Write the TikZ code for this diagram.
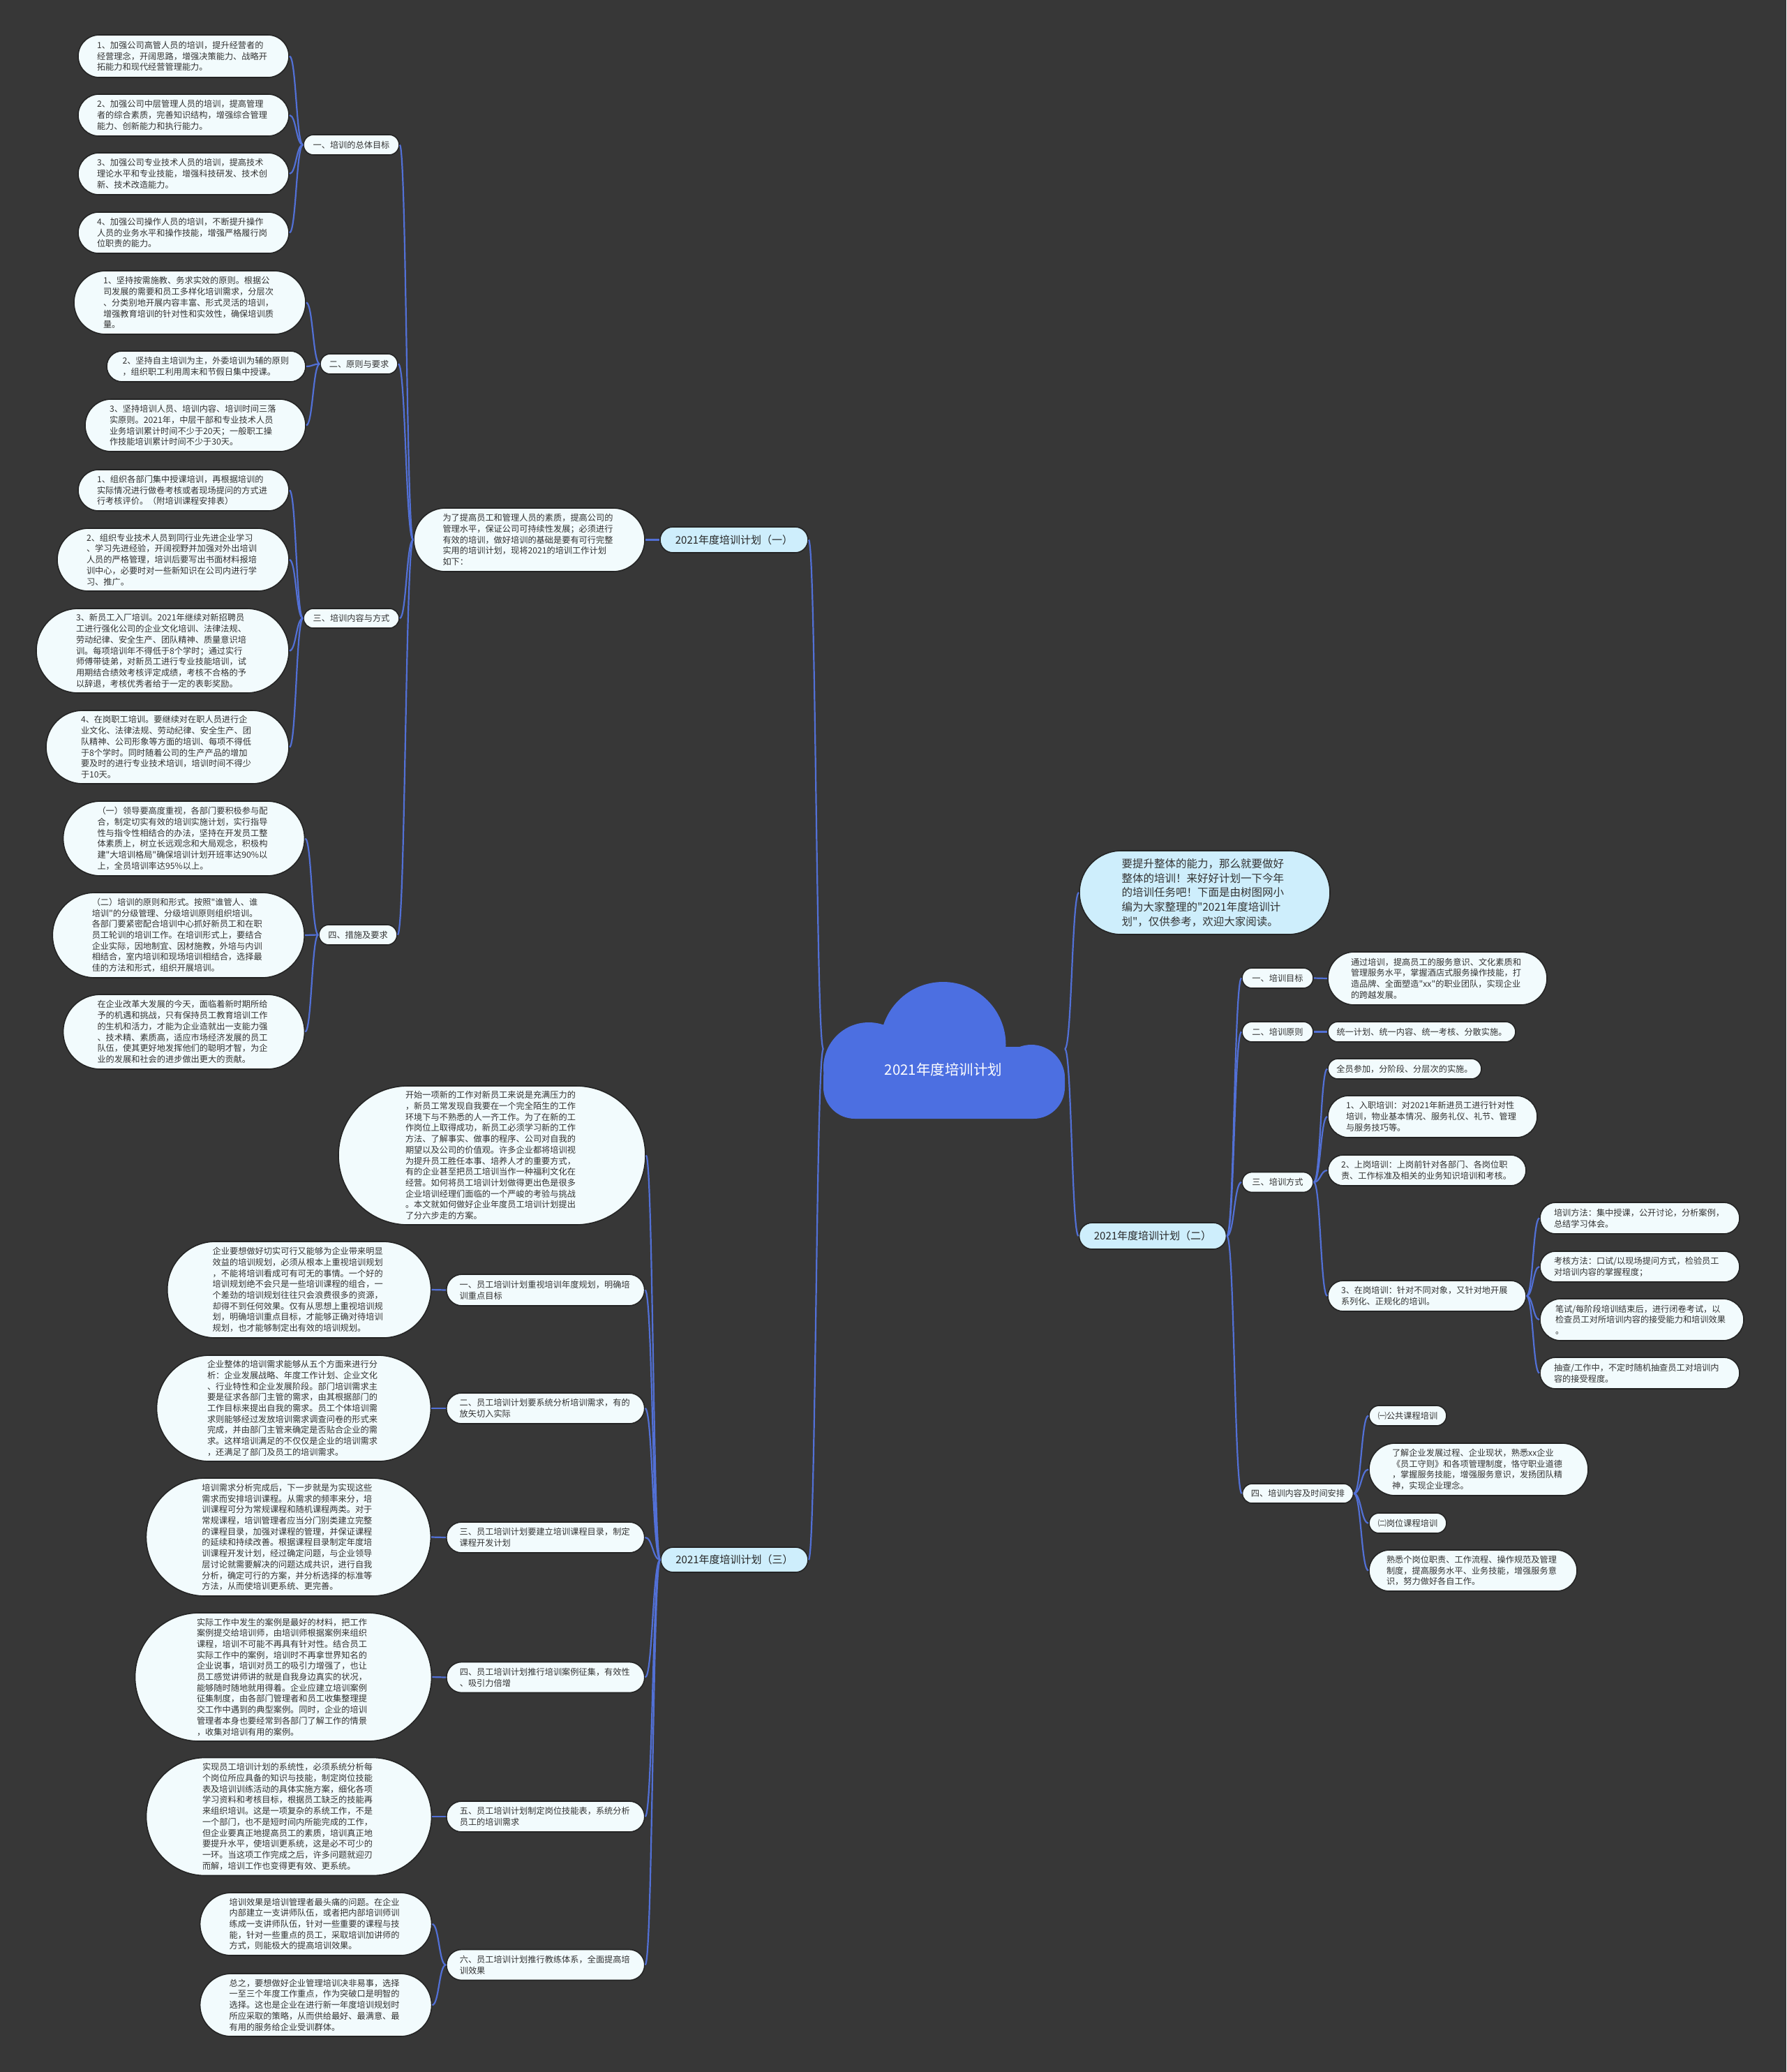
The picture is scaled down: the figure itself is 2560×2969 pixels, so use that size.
\documentclass[tikz,border=0pt]{standalone}
\usepackage{fontspec}
\newfontfamily\cjk{Noto Sans CJK SC}
\usetikzlibrary{calc}
\definecolor{bgc}{RGB}{55,55,55}
\definecolor{leafc}{RGB}{242,251,253}
\definecolor{titlec}{RGB}{206,238,252}
\definecolor{cloudc}{RGB}{76,111,225}
\definecolor{linec}{RGB}{82,112,214}
\definecolor{txtc}{RGB}{51,51,51}
\definecolor{edgec}{RGB}{36,36,36}
\tikzset{
  box/.style={draw=edgec, line width=1.6pt, fill=leafc, inner sep=0pt, text=txtc,
    font=\cjk\fontsize{12.2pt}{15.7pt}\selectfont, align=left},
  tbox/.style={box, fill=titlec, font=\cjk\fontsize{15pt}{18pt}\selectfont, text=black!85, align=center},
  conn/.style={draw=linec, line width=2.2pt},
}
\newcommand\leaf[7]{\node[box, minimum width=#4pt, minimum height=#5pt, text width=#6pt, rounded corners={#5pt*0.5}] (#1) at (#2,#3) {#7};}
\newcommand\lab[6]{\node[box, align=center, minimum width=#4pt, minimum height=#5pt, rounded corners={#5pt*0.5}] (#1) at (#2,#3) {#6};}
\newcommand\cn[2]{\draw[conn] let \p1=(#1), \p2=(#2) in (\p1) .. controls ({(\x1+\x2)/2},\y1) and ({(\x1+\x2)/2},\y2) .. (\p2);}
\begin{document}
\begin{tikzpicture}[x=1pt,y=-1pt]
\fill[bgc] (0,0) rectangle (2560,2969);
\useasboundingbox (0,0) rectangle (2560,2969);
% cloud
\fill[cloudc] (1351.5,1497) circle[radius=90pt];
\fill[cloudc] (1245,1530) circle[radius=65pt];
\fill[cloudc] (1478,1545) circle[radius=48pt];
\fill[cloudc, rounded corners=45pt] (1180,1500) rectangle (1526,1603);
\node[font=\cjk\fontsize{20.5pt}{24pt}\selectfont, text=white] (root) at (1352,1533) {2021年度培训计划};
\coordinate (rootL) at (1180,1503);
\coordinate (rootR) at (1526,1503);

% ===== plan one =====
\node[tbox, minimum width=212pt, minimum height=37pt, rounded corners=18.5pt] (title1) at (1052,773.5) {2021年度培训计划（一）};
\leaf{intro1}{758.5}{773.5}{331}{91}{248}{为了提高员工和管理人员的素质，提高公司的\\管理水平，保证公司可持续性发展；必须进行\\有效的培训，做好培训的基础是要有可行完整\\实用的培训计划，现将2021的培训工作计划\\如下：}
\lab{la1}{503.5}{207.5}{137}{29}{一、培训的总体目标}
\lab{la2}{514.5}{521.5}{111}{29}{二、原则与要求}
\lab{la3}{503.5}{886}{137}{28}{三、培训内容与方式}
\lab{la4}{513}{1339.5}{112}{29}{四、措施及要求}

\leaf{a1}{263}{80.5}{302}{61}{248}{1、加强公司高管人员的培训，提升经营者的\\经营理念，开阔思路，增强决策能力、战略开\\拓能力和现代经营管理能力。}
\leaf{a2}{263}{165}{302}{60}{248}{2、加强公司中层管理人员的培训，提高管理\\者的综合素质，完善知识结构，增强综合管理\\能力、创新能力和执行能力。}
\leaf{a3}{263}{249}{302}{60}{248}{3、加强公司专业技术人员的培训，提高技术\\理论水平和专业技能，增强科技研发、技术创\\新、技术改造能力。}
\leaf{a4}{263}{333.5}{302}{59}{248}{4、加强公司操作人员的培训，不断提升操作\\人员的业务水平和操作技能，增强严格履行岗\\位职责的能力。}

\leaf{p1}{272}{433.5}{332}{91}{248}{1、坚持按需施教、务求实效的原则。根据公\\司发展的需要和员工多样化培训需求，分层次\\、分类别地开展内容丰富、形式灵活的培训，\\增强教育培训的针对性和实效性，确保培训质\\量。}
\leaf{p2}{295.5}{525}{285}{44}{240}{2、坚持自主培训为主，外委培训为辅的原则\\，组织职工利用周末和节假日集中授课。}
\leaf{p3}{280}{609.5}{316}{75}{246}{3、坚持培训人员、培训内容、培训时间三落\\实原则。2021年，中层干部和专业技术人员\\业务培训累计时间不少于20天；一般职工操\\作技能培训累计时间不少于30天。}

\leaf{c1}{263}{702.5}{302}{59}{248}{1、组织各部门集中授课培训，再根据培训的\\实际情况进行做卷考核或者现场提问的方式进\\行考核评价。（附培训课程安排表）}
\leaf{c2}{248}{802}{332}{90}{248}{2、组织专业技术人员到同行业先进企业学习\\、学习先进经验，开阔视野并加强对外出培训\\人员的严格管理，培训后要写出书面材料报培\\训中心，必要时对一些新知识在公司内进行学\\习、推广。}
\leaf{c3}{233}{932.5}{362}{121}{248}{3、新员工入厂培训。2021年继续对新招聘员\\工进行强化公司的企业文化培训、法律法规、\\劳动纪律、安全生产、团队精神、质量意识培\\训。每项培训年不得低于8个学时；通过实行\\师傅带徒弟，对新员工进行专业技能培训，试\\用期结合绩效考核评定成绩，考核不合格的予\\以辞退，考核优秀者给于一定的表彰奖励。}
\leaf{c4}{240}{1070.5}{348}{105}{248}{4、在岗职工培训。要继续对在职人员进行企\\业文化、法律法规、劳动纪律、安全生产、团\\队精神、公司形象等方面的培训、每项不得低\\于8个学时。同时随着公司的生产产品的增加\\要及时的进行专业技术培训，培训时间不得少\\于10天。}

\leaf{d1}{263.5}{1201.5}{346}{107}{248}{（一）领导要高度重视，各部门要积极参与配\\合，制定切实有效的培训实施计划，实行指导\\性与指令性相结合的办法，坚持在开发员工整\\体素质上，树立长远观念和大局观念，积极构\\建"大培训格局"确保培训计划开班率达90\%以\\上，全员培训率达95\%以上。}
\leaf{d2}{255.75}{1340}{361}{122}{248}{（二）培训的原则和形式。按照"谁管人、谁\\培训"的分级管理、分级培训原则组织培训。\\各部门要紧密配合培训中心抓好新员工和在职\\员工轮训的培训工作。在培训形式上，要结合\\企业实际，因地制宜、因材施教，外培与内训\\相结合，室内培训和现场培训相结合，选择最\\佳的方法和形式，组织开展培训。}
\leaf{d3}{263.5}{1478.5}{346}{107}{248}{在企业改革大发展的今天，面临着新时期所给\\予的机遇和挑战，只有保持员工教育培训工作\\的生机和活力，才能为企业造就出一支能力强\\、技术精、素质高，适应市场经济发展的员工\\队伍，使其更好地发挥他们的聪明才智，为企\\业的发展和社会的进步做出更大的贡献。}

% ===== right side =====
\node[box, fill=titlec, font=\cjk\fontsize{15.5pt}{20.7pt}\selectfont, minimum width=359pt, minimum height=120pt, text width=238pt, rounded corners=60pt] (rintro) at (1726.5,1279) {要提升整体的能力，那么就要做好\\整体的培训！来好好计划一下今年\\的培训任务吧！下面是由树图网小\\编为大家整理的"2021年度培训计\\划"，仅供参考，欢迎大家阅读。};
\node[tbox, minimum width=211pt, minimum height=38pt, rounded corners=19pt] (title2) at (1652,1771) {2021年度培训计划（二）};
\lab{ra1}{1831}{1401.5}{102}{29}{一、培训目标}
\lab{ra2}{1831}{1478.5}{102}{29}{二、培训原则}
\lab{ra3}{1831}{1694}{102}{29}{三、培训方式}
\lab{ra4}{1860}{2140}{159}{28}{四、培训内容及时间安排}
\leaf{ra1leaf}{2060}{1402}{314}{76}{248}{通过培训，提高员工的服务意识、文化素质和\\管理服务水平，掌握酒店式服务操作技能，打\\造品牌、全面塑造"xx"的职业团队，实现企业\\的跨越发展。}
\lab{ra2leaf}{2037.5}{1478.5}{269}{29}{统一计划、统一内容、统一考核、分散实施。}
\lab{r3a}{2013}{1531.5}{220}{29}{全员参加，分阶段、分层次的实施。}
\leaf{r3b}{2053}{1600}{300}{60}{248}{1、入职培训：对2021年新进员工进行针对性\\培训，物业基本情况、服务礼仪、礼节、管理\\与服务技巧等。}
\leaf{r3c}{2045}{1677}{284}{44}{246}{2、上岗培训：上岗前针对各部门、各岗位职\\责、工作标准及相关的业务知识培训和考核。}
\leaf{r3d}{2045}{1857}{284}{44}{246}{3、在岗培训：针对不同对象，又针对地开展\\系列化、正规化的培训。}
\leaf{m1}{2350}{1745.5}{286}{45}{246}{培训方法：集中授课，公开讨论，分析案例，\\总结学习体会。}
\leaf{m2}{2350}{1815}{286}{44}{246}{考核方法：口试/以现场提问方式，检验员工\\对培训内容的掌握程度；}
\leaf{m3}{2353}{1891}{292}{60}{248}{笔试/每阶段培训结束后，进行闭卷考试，以\\检查员工对所培训内容的接受能力和培训效果\\。}
\leaf{m4}{2350}{1967.5}{286}{45}{246}{抽查/工作中，不定时随机抽查员工对培训内\\容的接受程度。}
\lab{n1}{2017.5}{2028.5}{111}{29}{㈠公共课程培训}
\leaf{n2}{2119}{2105.5}{314}{75}{248}{了解企业发展过程、企业现状，熟悉xx企业\\《员工守则》和各项管理制度，恪守职业道德\\，掌握服务技能，增强服务意识，发扬团队精\\神，实现企业理念。}
\lab{n3}{2017.5}{2182.5}{111}{29}{㈡岗位课程培训}
\leaf{n4}{2111}{2250.5}{298}{59}{248}{熟悉个岗位职责、工作流程、操作规范及管理\\制度，提高服务水平、业务技能，增强服务意\\识，努力做好各自工作。}

% ===== plan three =====
\node[tbox, minimum width=211pt, minimum height=36pt, rounded corners=18pt] (title3) at (1052.5,2235) {2021年度培训计划（三）};
\leaf{intro3}{705}{1655.5}{440}{199}{248}{开始一项新的工作对新员工来说是充满压力的\\，新员工常发现自我要在一个完全陌生的工作\\环境下与不熟悉的人一齐工作。为了在新的工\\作岗位上取得成功，新员工必须学习新的工作\\方法、了解事实、做事的程序、公司对自我的\\期望以及公司的价值观。许多企业都将培训视\\为提升员工胜任本事、培养人才的重要方式，\\有的企业甚至把员工培训当作一种福利文化在\\经营。如何将员工培训计划做得更出色是很多\\企业培训经理们面临的一个严峻的考验与挑战\\。本文就如何做好企业年度员工培训计划提出\\了分六步走的方案。}
\leaf{bl1}{781.7}{1848.5}{284}{45}{246}{一、员工培训计划重视培训年度规划，明确培\\训重点目标}
\leaf{bl2}{781.7}{2018}{284}{44}{246}{二、员工培训计划要系统分析培训需求，有的\\放矢切入实际}
\leaf{bl3}{781.7}{2203}{284}{44}{246}{三、员工培训计划要建立培训课程目录，制定\\课程开发计划}
\leaf{bl4}{781.8}{2403.5}{284}{44}{246}{四、员工培训计划推行培训案例征集，有效性\\、吸引力倍增}
\leaf{bl5}{781.8}{2603}{284}{44}{246}{五、员工培训计划制定岗位技能表，系统分析\\员工的培训需求}
\leaf{bl6}{781.8}{2815.5}{284}{44}{246}{六、员工培训计划推行教练体系，全面提高培\\训效果}
\leaf{bf1}{428.7}{1848}{378}{138}{248}{企业要想做好切实可行又能够为企业带来明显\\效益的培训规划，必须从根本上重视培训规划\\，不能将培训看成可有可无的事情。一个好的\\培训规划绝不会只是一些培训课程的组合，一\\个差劲的培训规划往往只会浪费很多的资源，\\却得不到任何效果。仅有从思想上重视培训规\\划，明确培训重点目标，才能够正确对待培训\\规划，也才能够制定出有效的培训规划。}
\leaf{bf2}{421}{2018}{393}{152}{248}{企业整体的培训需求能够从五个方面来进行分\\析：企业发展战略、年度工作计划、企业文化\\、行业特性和企业发展阶段。部门培训需求主\\要是征求各部门主管的需求，由其根据部门的\\工作目标来提出自我的需求。员工个体培训需\\求则能够经过发放培训需求调查问卷的形式来\\完成，并由部门主管来确定是否贴合企业的需\\求。这样培训满足的不仅仅是企业的培训需求\\，还满足了部门及员工的培训需求。}
\leaf{bf3}{413.4}{2202.5}{408}{169}{248}{培训需求分析完成后，下一步就是为实现这些\\需求而安排培训课程。从需求的频率来分，培\\训课程可分为常规课程和随机课程两类。对于\\常规课程，培训管理者应当分门别类建立完整\\的课程目录，加强对课程的管理，并保证课程\\的延续和持续改善。根据课程目录制定年度培\\训课程开发计划，经过确定问题，与企业领导\\层讨论就需要解决的问题达成共识，进行自我\\分析，确定可行的方案，并分析选择的标准等\\方法，从而使培训更系统、更完善。}
\leaf{bf4}{406}{2403}{425}{184}{248}{实际工作中发生的案例是最好的材料，把工作\\案例提交给培训师，由培训师根据案例来组织\\课程，培训不可能不再具有针对性。结合员工\\实际工作中的案例，培训时不再拿世界知名的\\企业说事，培训对员工的吸引力增强了，也让\\员工感觉讲师讲的就是自我身边真实的状况，\\能够随时随地就用得着。企业应建立培训案例\\征集制度，由各部门管理者和员工收集整理提\\交工作中遇到的典型案例。同时，企业的培训\\管理者本身也要经常到各部门了解工作的情景\\，收集对培训有用的案例。}
\leaf{bf5}{414}{2603}{409}{169}{248}{实现员工培训计划的系统性，必须系统分析每\\个岗位所应具备的知识与技能，制定岗位技能\\表及培训训练活动的具体实施方案，细化各项\\学习资料和考核目标，根据员工缺乏的技能再\\来组织培训。这是一项复杂的系统工作，不是\\一个部门，也不是短时间内所能完成的工作，\\但企业要真正地提高员工的素质，培训真正地\\要提升水平，使培训更系统，这是必不可少的\\一环。当这项工作完成之后，许多问题就迎刃\\而解，培训工作也变得更有效、更系统。}
\leaf{bf6a}{452.6}{2757}{332}{90}{248}{培训效果是培训管理者最头痛的问题。在企业\\内部建立一支讲师队伍，或者把内部培训师训\\练成一支讲师队伍，针对一些重要的课程与技\\能，针对一些重点的员工，采取培训加讲师的\\方式，则能极大的提高培训效果。}
\leaf{bf6b}{452.6}{2873}{332}{90}{248}{总之，要想做好企业管理培训决非易事，选择\\一至三个年度工作重点，作为突破口是明智的\\选择。这也是企业在进行新一年度培训规划时\\所应采取的策略，从而供给最好、最满意、最\\有用的服务给企业受训群体。}

% ===== connectors =====
\cn{rootL}{title1.east}
\cn{rootL}{title3.east}
\cn{rootR}{rintro.west}
\cn{rootR}{title2.west}
\cn{title1.west}{intro1.east}
\cn{intro1.west}{la1.east}
\cn{intro1.west}{la2.east}
\cn{intro1.west}{la3.east}
\cn{intro1.west}{la4.east}
\cn{la1.west}{a1.east}
\cn{la1.west}{a2.east}
\cn{la1.west}{a3.east}
\cn{la1.west}{a4.east}
\cn{la2.west}{p1.east}
\cn{la2.west}{p2.east}
\cn{la2.west}{p3.east}
\cn{la3.west}{c1.east}
\cn{la3.west}{c2.east}
\cn{la3.west}{c3.east}
\cn{la3.west}{c4.east}
\cn{la4.west}{d1.east}
\cn{la4.west}{d2.east}
\cn{la4.west}{d3.east}
\cn{title2.east}{ra1.west}
\cn{title2.east}{ra2.west}
\cn{title2.east}{ra3.west}
\cn{title2.east}{ra4.west}
\cn{ra1.east}{ra1leaf.west}
\cn{ra2.east}{ra2leaf.west}
\cn{ra3.east}{r3a.west}
\cn{ra3.east}{r3b.west}
\cn{ra3.east}{r3c.west}
\cn{ra3.east}{r3d.west}
\cn{r3d.east}{m1.west}
\cn{r3d.east}{m2.west}
\cn{r3d.east}{m3.west}
\cn{r3d.east}{m4.west}
\cn{ra4.east}{n1.west}
\cn{ra4.east}{n2.west}
\cn{ra4.east}{n3.west}
\cn{ra4.east}{n4.west}
\cn{title3.west}{intro3.east}
\cn{title3.west}{bl1.east}
\cn{title3.west}{bl2.east}
\cn{title3.west}{bl3.east}
\cn{title3.west}{bl4.east}
\cn{title3.west}{bl5.east}
\cn{title3.west}{bl6.east}
\cn{bl1.west}{bf1.east}
\cn{bl2.west}{bf2.east}
\cn{bl3.west}{bf3.east}
\cn{bl4.west}{bf4.east}
\cn{bl5.west}{bf5.east}
\cn{bl6.west}{bf6a.east}
\cn{bl6.west}{bf6b.east}
\end{tikzpicture}
\end{document}
